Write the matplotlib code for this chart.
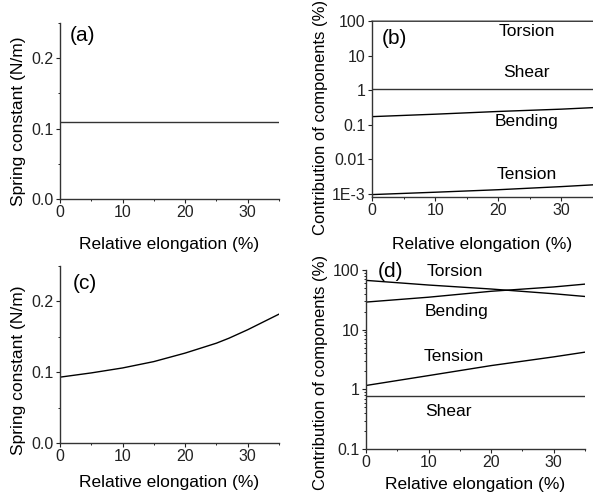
import matplotlib
matplotlib.use("Agg")
import matplotlib.pyplot as plt
from matplotlib.ticker import MultipleLocator, FixedLocator, FixedFormatter, LogLocator, NullFormatter

plt.rcParams['font.family'] = ['Liberation Sans', 'DejaVu Sans']
plt.rcParams['font.size'] = 12.5

# (a) spring constant, constant
x_a = [0, 35]
k_a = [0.11, 0.11]

# (b) contribution of components (%), log scale
x_b = [0, 10, 20, 30, 35]
torsion_b = [98.7, 98.6, 98.5, 98.4, 98.3]
shear_b = [1.07, 1.07, 1.07, 1.07, 1.07]
bending_b = [0.17, 0.20, 0.24, 0.28, 0.31]
tension_b = [0.00094, 0.0011, 0.0013, 0.0016, 0.0018]

# (c) spring constant, rising
x_c = [0, 5, 10, 15, 20, 25, 27, 30, 35]
k_c = [0.093, 0.099, 0.106, 0.115, 0.127, 0.141, 0.148, 0.160, 0.182]

# (d) contribution of components (%), log scale
x_d = [0, 10, 20, 30, 35]
torsion_d = [67, 56, 48, 40, 36]
bending_d = [29, 35, 44, 52, 58]
tension_d = [1.16, 1.7, 2.5, 3.5, 4.2]
shear_d = [0.76, 0.76, 0.76, 0.76, 0.76]

log_ticks_b = [0.001, 0.01, 0.1, 1, 10, 100]
log_labels_b = ['1E-3', '0.01', '0.1', '1', '10', '100']
log_ticks_d = [0.1, 1, 10, 100]
log_labels_d = ['0.1', '1', '10', '100']

W, H = 593, 493
fig = plt.figure(figsize=(W / 100, H / 100), dpi=100)


def box(l, r, t, b):
    return [l / W, 1 - b / H, (r - l) / W, (b - t) / H]


def style(ax, xlab_y):
    for s in ['top', 'right']:
        ax.spines[s].set_visible(False)
    for s in ['left', 'bottom']:
        ax.spines[s].set_linewidth(1.0)
        ax.spines[s].set_color('#333333')
    ax.tick_params(which='major', direction='out', length=3, width=0.8, pad=1.5,
                   colors='#222222', labelsize=11.5)
    ax.tick_params(which='minor', direction='out', length=1.5, width=0.6)
    ax.set_xlim(0, 35)
    ax.xaxis.set_major_locator(MultipleLocator(10))
    ax.xaxis.set_minor_locator(MultipleLocator(5))
    ax.set_xlabel('Relative elongation (%)')
    ax.xaxis.label.set_va('center')
    ax.xaxis.set_label_coords(0.5, xlab_y)


def linear(ax, xlab_y, ylab_x, ylab_y):
    style(ax, xlab_y)
    ax.set_ylim(0, 0.25)
    ax.yaxis.set_major_locator(MultipleLocator(0.1))
    ax.yaxis.set_minor_locator(MultipleLocator(0.05))
    ax.yaxis.set_major_formatter(matplotlib.ticker.FormatStrFormatter('%.1f'))
    ax.set_ylabel('Spring constant (N/m)')
    ax.yaxis.label.set_va('center')
    ax.yaxis.set_label_coords(ylab_x, ylab_y)


def logax(ax, ticks, labels, xlab_y, ylab_x, ylab_y):
    style(ax, xlab_y)
    ax.set_yscale('log')
    ax.yaxis.set_major_locator(FixedLocator(ticks))
    ax.yaxis.set_major_formatter(FixedFormatter(labels))
    ax.yaxis.set_minor_locator(LogLocator(base=10, subs=range(2, 10)))
    ax.yaxis.set_minor_formatter(NullFormatter())
    ax.set_ylabel('Contribution of components (%)', fontsize=12)
    ax.yaxis.label.set_va('center')
    ax.yaxis.set_label_coords(ylab_x, ylab_y)


lw = 1.0

ax_a = fig.add_axes(box(60, 279, 23, 199))
linear(ax_a, -0.26, -0.19, 0.44)
ax_a.plot(x_a, k_a, color='#333333', lw=lw)
ax_a.text(0.045, 0.93, '(a)', transform=ax_a.transAxes, fontsize=15, va='center')

ax_c = fig.add_axes(box(60, 279, 266, 443))
linear(ax_c, -0.225, -0.19, 0.41)
ax_c.plot(x_c, k_c, color='black', lw=lw)
ax_c.text(0.06, 0.90, '(c)', transform=ax_c.transAxes, fontsize=15, va='center')

ax_b = fig.add_axes(box(372, 593, 21, 197))
logax(ax_b, log_ticks_b, log_labels_b, -0.27, -0.235, 0.45)
ax_b.set_ylim(8e-4, 100)
ax_b.plot(x_b, torsion_b, color='#333333', lw=lw, clip_on=False)
ax_b.plot(x_b, shear_b, color='#333333', lw=lw)
ax_b.plot(x_b, bending_b, color='black', lw=lw)
ax_b.plot(x_b, tension_b, color='black', lw=lw)
ax_b.text(0.045, 0.90, '(b)', transform=ax_b.transAxes, fontsize=15, va='center')
for name, yv in [('Torsion', 0.94), ('Shear', 0.705), ('Bending', 0.43), ('Tension', 0.13)]:
    ax_b.text(0.70, yv, name, transform=ax_b.transAxes, ha='center', va='center')

ax_d = fig.add_axes(box(366, 585, 270, 449))
logax(ax_d, log_ticks_d, log_labels_d, -0.2, -0.21, 0.43)
ax_d.set_ylim(0.1, 100)
ax_d.plot(x_d, torsion_d, color='black', lw=lw)
ax_d.plot(x_d, bending_d, color='black', lw=lw)
ax_d.plot(x_d, tension_d, color='black', lw=lw)
ax_d.plot(x_d, shear_d, color='#333333', lw=lw)
ax_d.text(0.055, 0.99, '(d)', transform=ax_d.transAxes, fontsize=15, va='center')
for name, xv, yv in [('Torsion', 0.405, 0.99), ('Bending', 0.415, 0.77),
                     ('Tension', 0.40, 0.514), ('Shear', 0.375, 0.21)]:
    ax_d.text(xv, yv, name, transform=ax_d.transAxes, ha='center', va='center')

fig.savefig('out.png', dpi=100)
